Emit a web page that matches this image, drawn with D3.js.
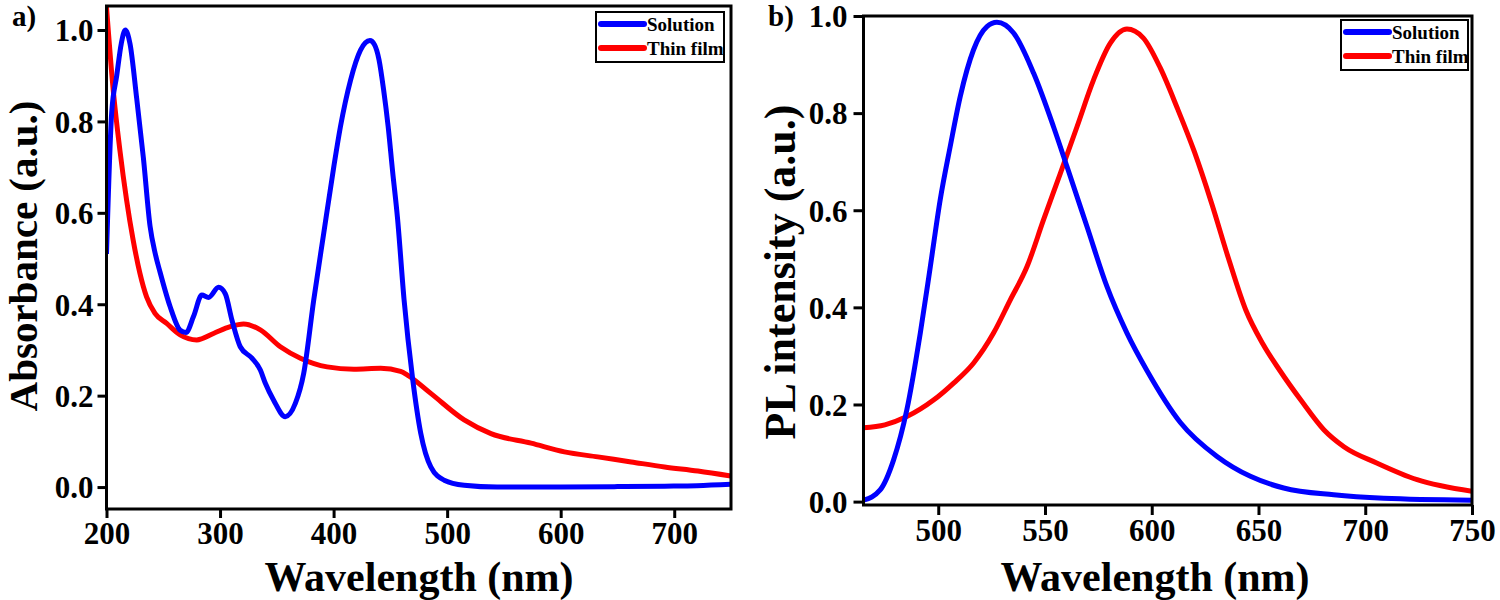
<!DOCTYPE html>
<html>
<head>
<meta charset="utf-8">
<script src="https://cdn.jsdelivr.net/npm/d3@7"></script>
<style>
  body { margin: 0; background: #fff; }
  text { font-family: "Liberation Serif", "Times New Roman", serif; font-weight: bold; fill: #000; }
</style>
</head>
<body>
<div id="chart"></div>
<script>
// series names for the legends
var seriesNames = ["Solution", "Thin film"];
var seriesColors = ["#0000ff", "#ff0000"];

// a) absorbance, solution
var absSolX = [200, 204.6, 209, 213, 216.5, 220.7, 226.6, 232.5, 238.4, 243, 247.2, 256, 264.9, 270, 276.6, 284, 289.9, 298.7, 304.6, 310.5, 317.8, 328.1, 335.5, 339.9, 347.2, 357.5, 366.3, 373.7, 382.5, 391.3, 400.2, 406, 414.9, 423.7, 428, 432, 436, 440, 444, 448, 452, 456.2, 462.1, 469.4, 476.8, 485.6, 497.4, 515, 544, 600, 650, 691.5, 720, 750];
var absSolY = [0.51, 0.82, 0.90, 0.97, 1.0, 0.97, 0.85, 0.72, 0.57, 0.51, 0.47, 0.395, 0.343, 0.338, 0.373, 0.42, 0.415, 0.437, 0.423, 0.365, 0.307, 0.282, 0.256, 0.227, 0.19, 0.154, 0.183, 0.249, 0.409, 0.555, 0.701, 0.788, 0.89, 0.956, 0.972, 0.977, 0.968, 0.935, 0.87, 0.79, 0.69, 0.591, 0.409, 0.241, 0.117, 0.044, 0.015, 0.004, 0.0, 0.0, 0.001, 0.002, 0.003, 0.006];

// a) absorbance, thin film
var absFilmX = [200, 205.9, 211.8, 217.7, 223.5, 229.4, 235.3, 242.7, 253, 264.9, 279.5, 294.2, 308.9, 320.7, 335.5, 353.1, 370.8, 394.3, 417.9, 441.5, 459, 465, 485.6, 515, 538.6, 573.9, 603.3, 632.7, 662.1, 691.5, 720.9, 750];
var absFilmY = [1.05, 0.869, 0.737, 0.628, 0.54, 0.468, 0.416, 0.38, 0.358, 0.333, 0.322, 0.336, 0.351, 0.357, 0.344, 0.307, 0.282, 0.263, 0.258, 0.26, 0.253, 0.245, 0.205, 0.147, 0.117, 0.096, 0.077, 0.066, 0.055, 0.044, 0.035, 0.024];

// b) PL, solution
var plSolX = [465, 472.8, 479.1, 485.3, 491.6, 496.3, 500.9, 505.6, 510.3, 516.5, 522.8, 527.5, 535.3, 544.7, 554, 560.3, 569.7, 579, 588.4, 598, 613.4, 630.6, 646.2, 661.8, 685.2, 708.7, 750];
var plSolY = [0.003, 0.024, 0.086, 0.189, 0.347, 0.484, 0.621, 0.731, 0.834, 0.93, 0.978, 0.987, 0.965, 0.882, 0.772, 0.69, 0.566, 0.443, 0.347, 0.268, 0.163, 0.093, 0.052, 0.028, 0.014, 0.007, 0.003];

// b) PL, thin film
var plFilmX = [465, 475, 485.3, 497.8, 507.2, 516.5, 525.9, 533.7, 541.6, 549.3, 557.2, 565, 572.8, 580.6, 588.4, 596, 604, 612, 620, 628, 636, 644, 652, 660, 670, 680.6, 690, 705.6, 724.3, 750];
var plFilmY = [0.152, 0.158, 0.175, 0.209, 0.244, 0.285, 0.347, 0.415, 0.484, 0.58, 0.676, 0.772, 0.869, 0.944, 0.973, 0.955, 0.893, 0.81, 0.72, 0.615, 0.50, 0.395, 0.325, 0.27, 0.208, 0.148, 0.113, 0.079, 0.045, 0.021];

// tick values
var absXTicks = [200, 300, 400, 500, 600, 700];
var plXTicks = [500, 550, 600, 650, 700, 750];
var yTicks = [0.0, 0.2, 0.4, 0.6, 0.8, 1.0];

var svg = d3.select("#chart")
  .append("svg")
    .attr("width", 1500)
    .attr("height", 600);

function zip(xs, ys) {
  return xs.map(function(x, i) { return [x, ys[i]]; });
}

function drawPanel(p) {
  var x = d3.scaleLinear().domain(p.xDomain).range([p.left, p.right]);
  var y = d3.scaleLinear().domain(p.yDomain).range([p.bottom, p.top]);

  var g = svg.append("g");

  // clip for the curves
  g.append("clipPath")
    .attr("id", p.id + "-clip")
    .append("rect")
      .attr("x", p.left).attr("y", p.top)
      .attr("width", p.right - p.left).attr("height", p.bottom - p.top);

  var line = d3.line()
    .x(function(d) { return x(d[0]); })
    .y(function(d) { return y(d[1]); })
    .curve(d3.curveMonotoneX);

  // film first, solution on top where they cross
  p.series.slice().reverse().forEach(function(s) {
    g.append("path")
      .datum(zip(s.x, s.y))
      .attr("clip-path", "url(#" + p.id + "-clip)")
      .attr("fill", "none")
      .attr("stroke", s.color)
      .attr("stroke-width", 5)
      .attr("stroke-linejoin", "round")
      .attr("d", line);
  });

  // axes
  var xAxis = g.append("g")
    .attr("transform", "translate(0," + p.bottom + ")")
    .call(d3.axisBottom(x).tickValues(p.xTicks).tickFormat(d3.format("d")).tickSize(p.tick).tickPadding(p.xPad));
  var yAxis = g.append("g")
    .attr("transform", "translate(" + p.left + ",0)")
    .call(d3.axisLeft(y).tickValues(yTicks).tickFormat(d3.format(".1f")).tickSize(p.tick).tickPadding(p.yPad));

  [xAxis, yAxis].forEach(function(a) {
    a.select(".domain").remove();
    a.selectAll(".tick line").attr("stroke", "#000").attr("stroke-width", 3);
    a.selectAll("text").style("font-size", "31px").attr("fill", "#000");
  });
  yAxis.selectAll("text").attr("dy", "0.35em");

  // frame
  g.append("rect")
    .attr("x", p.left).attr("y", p.top)
    .attr("width", p.right - p.left).attr("height", p.bottom - p.top)
    .attr("fill", "none").attr("stroke", "#000").attr("stroke-width", 3);

  // axis titles
  g.append("text")
    .attr("x", p.xTitleX).attr("y", 591)
    .attr("text-anchor", "middle")
    .style("font-size", "42px")
    .text("Wavelength (nm)");
  g.append("text")
    .attr("transform", "translate(" + p.yTitleX + "," + p.yTitleY + ") rotate(-90)")
    .attr("text-anchor", "middle")
    .style("font-size", p.yTitleSize + "px")
    .text(p.yTitle);

  // panel letter
  g.append("text")
    .attr("x", p.letterX).attr("y", 26)
    .style("font-size", "29px")
    .text(p.letter);

  // legend
  var lg = g.append("g").attr("transform", "translate(" + p.legX + "," + p.legY + ")");
  lg.append("rect")
    .attr("width", p.legW).attr("height", 50)
    .attr("fill", "#fff").attr("stroke", "#000").attr("stroke-width", 2);
  seriesNames.forEach(function(name, i) {
    lg.append("line")
      .attr("x1", 5).attr("x2", 48)
      .attr("y1", 12 + i * 24).attr("y2", 12 + i * 24)
      .attr("stroke", seriesColors[i]).attr("stroke-width", 6)
      .attr("stroke-linecap", "round");
    lg.append("text")
      .attr("x", 51).attr("y", 19 + i * 24)
      .style("font-size", "19px")
      .text(name);
  });
}

drawPanel({
  id: "abs", left: 106.5, right: 731, top: 6, bottom: 509,
  xDomain: [200, 750], yDomain: [-0.048, 1.0525],
  xTicks: absXTicks, tick: 9, xPad: 4, yPad: 4,
  xTitleX: 419, yTitleX: 37, yTitleY: 256, yTitleSize: 41, yTitle: "Absorbance (a.u.)",
  letter: "a)", letterX: 12,
  legX: 596, legY: 12, legW: 128,
  series: [
    {x: absSolX, y: absSolY, color: seriesColors[0]},
    {x: absFilmX, y: absFilmY, color: seriesColors[1]}
  ]
});

drawPanel({
  id: "pl", left: 863.5, right: 1472, top: 16, bottom: 505,
  xDomain: [465, 750], yDomain: [-0.007, 1.0],
  xTicks: plXTicks, tick: 10, xPad: 4, yPad: 6,
  xTitleX: 1155, yTitleX: 795, yTitleY: 272, yTitleSize: 44, yTitle: "PL intensity (a.u.)",
  letter: "b)", letterX: 768,
  legX: 1341, legY: 20, legW: 127,
  series: [
    {x: plSolX, y: plSolY, color: seriesColors[0]},
    {x: plFilmX, y: plFilmY, color: seriesColors[1]}
  ]
});
</script>
</body>
</html>
